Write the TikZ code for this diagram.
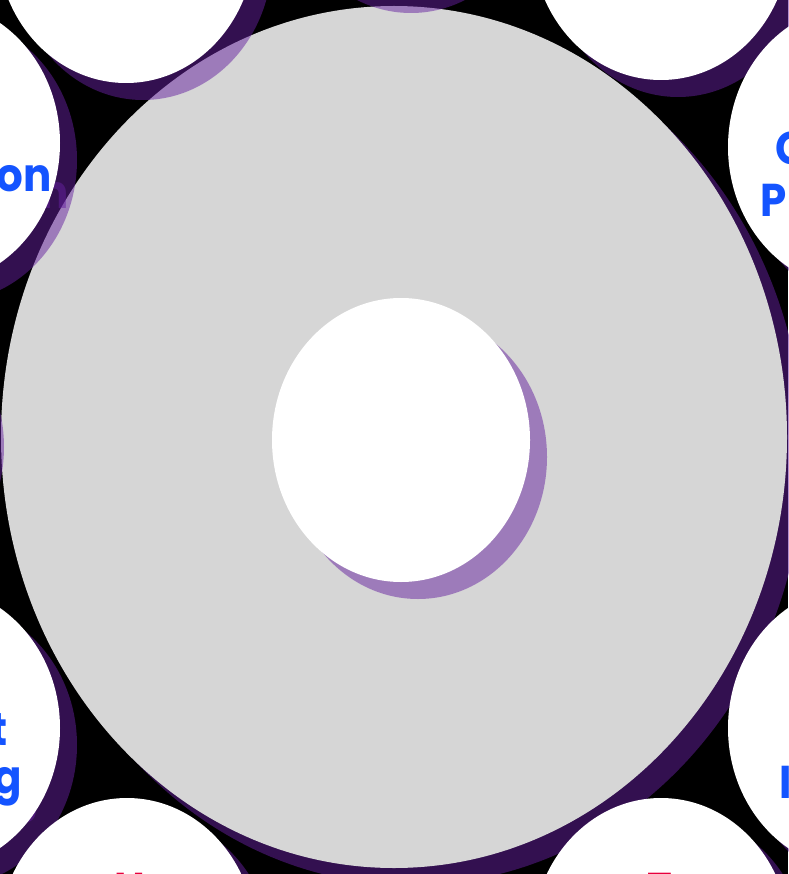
\documentclass[tikz,border=0pt]{standalone}
\usepackage{fontspec}
\setmainfont{Poppins}
\usetikzlibrary{shapes.geometric}
\definecolor{shpurple}{RGB}{102,33,160}
\definecolor{ringgrey}{HTML}{D6D6D6}
\definecolor{lblblue}{RGB}{20,84,255}
\definecolor{lblred}{RGB}{232,0,61}
\newcommand{\vs}[1]{\scalebox{1}[1.095]{#1}}
\tikzset{
  shadowfill/.style={fill=shpurple, fill opacity=0.5, draw=none},
  sat/.style={ellipse, minimum width=258pt, minimum height=284pt, inner sep=0pt, fill=white, draw=none},
  satshadow/.style={sat, shadowfill},
  lbl/.style={inner sep=0pt, font=\fontsize{42}{46}\selectfont\bfseries},
  bluelbl/.style={lbl, text=lblblue},
  redlbl/.style={lbl, text=lblred},
  txtshadow/.style={lbl, text=shpurple, text opacity=0.5},
}
\begin{document}
\begin{tikzpicture}[x=1pt,y=-1pt]
\useasboundingbox (0,0) rectangle (788,874);
\fill[black] (0,0) rectangle (788,874);
% big ring shadow and body
\node[ellipse, minimum width=786pt, minimum height=862pt, inner sep=0pt, shadowfill] (bigsh) at (411,454) {};
\node[ellipse, minimum width=786pt, minimum height=862pt, inner sep=0pt, fill=ringgrey] (big) at (394,437) {};
% satellite shadows
\foreach \n/\x/\y in {t/394/-146, tl/126/-59, tr/661/-62, l/-69/143, r/857/147, ml/-142/430, bl/-69/728, br/857/728, bbl/127/940, bbr/661/940}{
  \pgfmathsetmacro{\sx}{\x+17}\pgfmathsetmacro{\sy}{\y+17}
  \node[satshadow] (sh\n) at (\sx,\sy) {};
}
% text shadows
\node[txtshadow, anchor=base east] (shon) at (69,209) {\vs{on}};
\node[txtshadow, anchor=base east] (sht) at (25,762) {\vs{t}};
\node[txtshadow, anchor=base east] (shg) at (39,810) {\vs{g}};
% inner hole shadow
\node[sat, shadowfill] (holesh) at (418,457) {};
% satellites
\foreach \n/\x/\y in {t/394/-146, tl/126/-59, tr/661/-62, l/-69/143, r/857/147, ml/-142/430, bl/-69/728, br/857/728, bbl/127/940, bbr/661/940}{
  \node[sat] (s\n) at (\x,\y) {};
}
% inner hole
\node[sat] (hole) at (401,440) {};
% labels
\node[bluelbl, anchor=base east] (lon) at (52,192) {\vs{on}};
\node[bluelbl, anchor=base west] (lc) at (775,165) {\vs{C}};
\node[bluelbl, anchor=base west] (lp) at (760,217) {\vs{P}};
\node[bluelbl, anchor=base east] (lt) at (8,745) {\vs{t}};
\node[bluelbl, anchor=base east] (lg) at (22,793) {\vs{g}};
\node[bluelbl, anchor=base west] (li) at (779,798) {\vs{I}};
\node[redlbl, anchor=base west] (lh) at (114,905) {\vs{H}};
\node[redlbl, anchor=base west] (lT) at (647,905) {\vs{T}};
\end{tikzpicture}
\end{document}
